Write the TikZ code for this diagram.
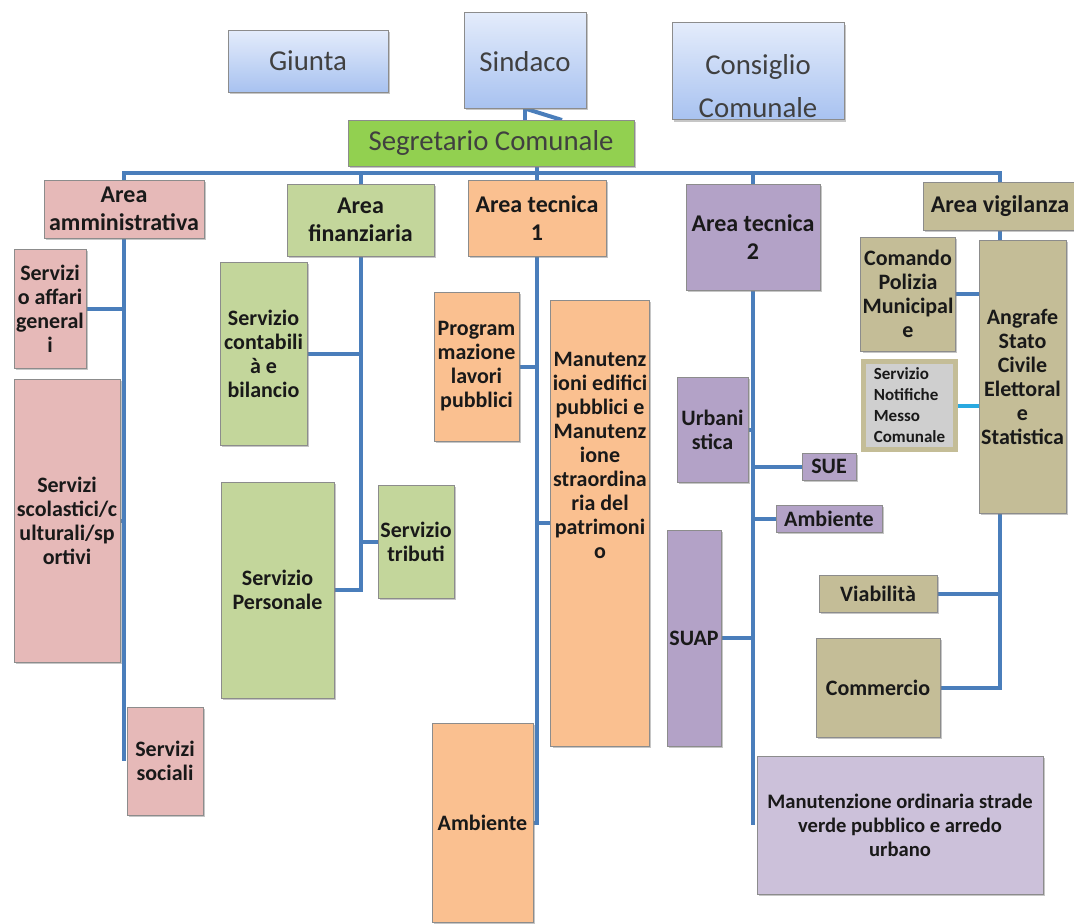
\documentclass[tikz,border=0pt]{standalone}
\usepackage{fontspec}
\setmainfont{Carlito}
\usetikzlibrary{shadows,backgrounds}

\definecolor{ammcol}{HTML}{E6B9B8}
\definecolor{fincol}{HTML}{C3D69B}
\definecolor{teccol}{HTML}{FAC090}
\definecolor{tecbcol}{HTML}{B3A2C7}
\definecolor{tecbpale}{HTML}{CCC1DA}
\definecolor{vigcol}{HTML}{C4BD97}
\definecolor{segcol}{HTML}{92D050}
\definecolor{topcolA}{HTML}{E4ECFB}
\definecolor{topcolB}{HTML}{A8C2F0}
\definecolor{linkcol}{HTML}{4A7EBB}
\definecolor{notecol}{HTML}{29A9E0}

\tikzset{
	orgbox/.style={draw=black!45, line width=0.5pt, inner sep=1pt, align=center,
		text=black!90, font=\bfseries\fontsize{11}{12}\selectfont,
		drop shadow={shadow xshift=1pt, shadow yshift=-1.2pt, opacity=0.45}},
	topbox/.style={orgbox, top color=topcolA, bottom color=topcolB, text=black!75,
		font=\fontsize{14.4}{17.5}\selectfont},
	areabox/.style={orgbox, font=\bfseries\fontsize{12}{14}\selectfont},
	sz/.style 2 args={minimum width=0.5*#1pt, minimum height=0.5*#2pt},
	link/.style={draw=linkcol, line width=2pt},
}

\begin{document}
\begin{tikzpicture}[x=0.5pt, y=-0.5pt]
			\useasboundingbox (0,0) rectangle (1074,923);

			\node (giunta) at (308,61) [topbox, sz={160}{62}] {Giunta};
			\node (sindaco) at (525,60) [topbox, sz={122}{96}] {\rule{0pt}{12pt}Sindaco};
			\node (consiglio) at (758,71) [topbox, sz={172}{90}] {\rule{0pt}{25pt}Consiglio\\[4pt]Comunale};
			\node (segretario) at (491,143) [orgbox, fill=segcol, sz={286}{46}, text=black!75,
				font=\fontsize{14.4}{17.5}\selectfont] {Segretario Comunale};

			% aree
			\node (ammarea) at (124,209) [areabox, fill=ammcol, sz={160}{58}] {Area\\amministrativa};
			\node (finarea) at (360.5,220) [areabox, fill=fincol, sz={147}{72}] {Area\\finanziaria};
			\node (tec1area) at (537,218) [areabox, fill=teccol, sz={138}{76}] {Area tecnica\\1};
			\node (tec2area) at (753,237) [areabox, fill=tecbcol, sz={134}{106}] {Area tecnica\\2};
			\node (vigarea) at (1000,206) [areabox, fill=vigcol, sz={154}{48}] {Area vigilanza};

			\node (affari) at (50,308.5) [orgbox, fill=ammcol, sz={72}{119}] {Servizi\\o affari\\general\\i};
			\node (scolastici) at (67,520.5) [orgbox, fill=ammcol, sz={106}{283}] {Servizi\\scolastici/c\\ulturali/sp\\ortivi};
			\node (sociali) at (165,761) [orgbox, fill=ammcol, sz={76}{108}] {Servizi\\sociali};

			\node (contab) at (263.5,353.5) [orgbox, fill=fincol, sz={87}{183}] {Servizio\\contabili\\à e\\bilancio};
			\node (personale) at (277.5,590) [orgbox, fill=fincol, sz={113}{216}] {Servizio\\Personale};
			\node (tributi) at (416,541.5) [orgbox, fill=fincol, sz={76}{113}] {Servizio\\tributi};

			\node (programma) at (476.5,366.5) [orgbox, fill=teccol, sz={85}{149}] {Program\\mazione\\lavori\\pubblici};
			\node (manutenz) at (600,523) [orgbox, fill=teccol, sz={98}{446}]
				{Manutenz\\ioni edifici\\pubblici e\\Manutenz\\ione\\straordina\\ria del\\patrimoni\\o\rule[-68pt]{0pt}{68pt}};
			\node (ambtec) at (482.5,822.5) [orgbox, fill=teccol, sz={101}{199}] {Ambiente};

			\node (urbanistica) at (712.5,429.5) [orgbox, fill=tecbcol, sz={71}{105}] {Urbani\\stica};
			\node (sue) at (829,466.5) [orgbox, fill=tecbcol, sz={54}{27}] {SUE};
			\node (ambtecb) at (829,518.5) [orgbox, fill=tecbcol, sz={106}{27}] {Ambiente};
			\node (suap) at (694,638) [orgbox, fill=tecbcol, sz={54}{216}] {SUAP};
			\node (ordinaria) at (900,825) [orgbox, fill=tecbpale, sz={286}{138},
				font=\bfseries\fontsize{10.3}{12}\selectfont] {Manutenzione ordinaria strade\\verde pubblico e arredo\\urbano};

			\node (comando) at (908,294) [orgbox, fill=vigcol, sz={94}{114}] {Comando\\Polizia\\Municipal\\e};
			\node (angrafe) at (1022.5,376.5) [orgbox, fill=vigcol, sz={87}{273}] {Angrafe\\Stato\\Civile\\Elettoral\\e\\Statistica};
			\node (notifiche) at (909.5,405.5) [orgbox, fill=black!19, draw=vigcol, line width=2.5pt, sz={92}{88},
				align=left, font=\bfseries\fontsize{8.5}{10.5}\selectfont] {Servizio\\Notifiche\\Messo\\Comunale};
			\node (viabilita) at (878,593.5) [orgbox, fill=vigcol, sz={118}{37}] {Viabilità};
			\node (commercio) at (878,687.5) [orgbox, fill=vigcol, sz={124}{99}] {Commercio};

			\begin{scope}[on background layer]
				\coordinate (busR) at (1000,173);
				\coordinate (sindtip) at (562,120);
				\draw[link] (sindaco.south) -- (sindaco.south |- segretario.north);
				\draw[link] (sindaco.south) -- (sindtip);
				\draw[link] (segretario.south -| tec1area.north) -- (tec1area.north);
				\draw[link] (ammarea.north) |- (busR) -- (vigarea.north);
				\draw[link] (finarea.north) -- (finarea.north |- busR);
				\draw[link] (tec2area.north) -- (tec2area.north |- busR);

				\draw[link] (ammarea.south) -- (ammarea.south |- sociali.west);
				\draw[link] (affari.east) -- (affari.east -| ammarea.south);
				\draw[link] (scolastici.east) -- (scolastici.east -| ammarea.south);

				\draw[link] (finarea.south) -- (finarea.south |- personale.east) -- (personale.east);
				\draw[link] (contab.east) -- (contab.east -| finarea.south);
				\draw[link] (tributi.west) -- (tributi.west -| finarea.south);

				\draw[link] (tec1area.south) -- (tec1area.south |- ambtec.east) -- (ambtec.east);
				\draw[link] (programma.east) -- (programma.east -| tec1area.south);
				\draw[link] (manutenz.west) -- (manutenz.west -| tec1area.south);

				\draw[link] (tec2area.south) -- (tec2area.south |- ordinaria.west);
				\draw[link] (urbanistica.east) -- (urbanistica.east -| tec2area.south);
				\draw[link] (sue.west) -- (sue.west -| tec2area.south);
				\draw[link] (ambtecb.west) -- (ambtecb.west -| tec2area.south);
				\draw[link] (suap.east) -- (suap.east -| tec2area.south);

				\draw[link] (vigarea.south) -- (vigarea.south |- commercio.east) -- (commercio.east);
				\draw[link] (comando.east) -- (comando.east -| vigarea.south);
				\draw[link] (viabilita.east) -- (viabilita.east -| vigarea.south);
				\draw[link, draw=notecol] (notifiche.east) -- (notifiche.east -| angrafe.west);
			\end{scope}
		\end{tikzpicture}
\end{document}
